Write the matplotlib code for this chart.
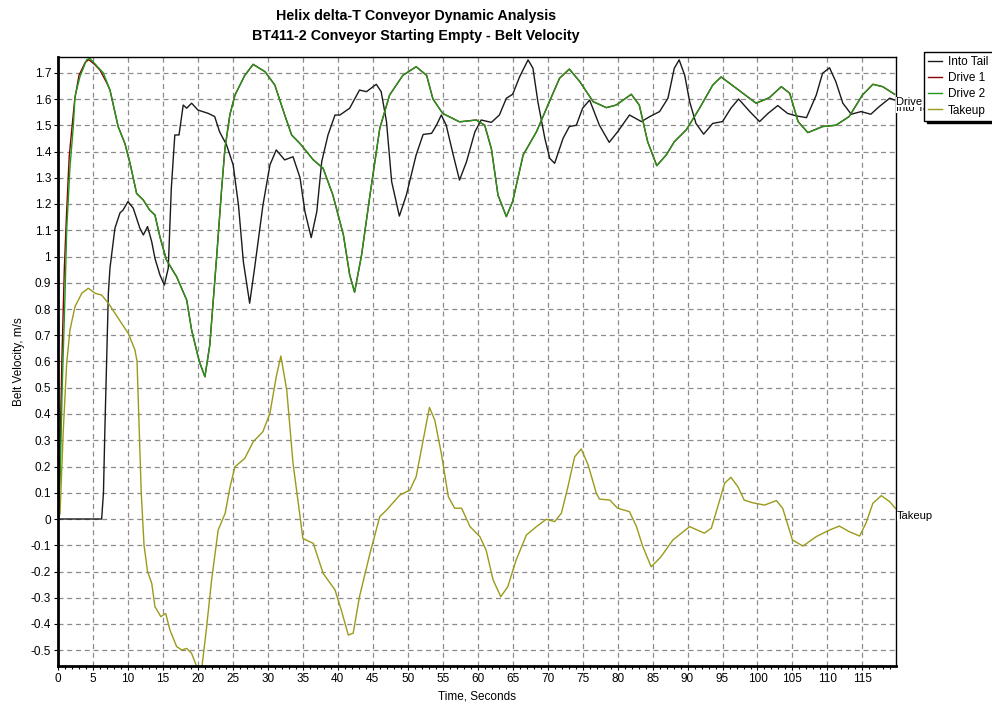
import matplotlib.pyplot as plt
import numpy as np
from matplotlib.ticker import MultipleLocator, FuncFormatter

plt.rcParams["font.family"] = ["Liberation Sans", "DejaVu Sans"]

# Into Tail belt velocity, m/s
tail_t = [0, 6.24, 6.5, 6.7, 6.96, 7.2, 7.43, 8.14, 8.86, 9.3, 10, 10.76, 11.7, 12.2,
          12.8, 13.4, 13.86, 14.57, 15.2, 15.76, 16.2, 16.7, 17.3, 17.9, 18.4, 19.1,
          20, 21.5, 22.4, 23.1, 24.1, 25.04, 25.8, 26.5, 27.4, 28.1, 29.3, 30.3, 31.2,
          32.4, 33.6, 34.6, 35.3, 36.2, 37, 37.7, 38.6, 39.6, 40.3, 41.7, 43.1, 44.1,
          45.5, 46.2, 46.96, 47.7, 48.8, 49.8, 51.2, 52.2, 53.4, 54.1, 54.8, 55.5,
          56.5, 57.4, 58.4, 59.6, 60.5, 61.96, 63.1, 64.1, 65, 66, 67.2, 67.9, 68.6,
          69.6, 70.3, 71, 72.2, 73.1, 74.1, 75, 76, 77.4, 78.8, 80, 81.7, 83.4, 84.6,
          86, 87.2, 88.1, 88.8, 89.6, 90.3, 91.2, 92.3, 93.6, 95, 96.2, 97.3, 98.9,
          100.3, 101.5, 102.9, 104.3, 105.5, 107, 108.4, 109.3, 110.3, 111.2, 112.2,
          113.4, 114.8, 116.2, 117.4, 118.9, 119.6]
tail_v = [0, 0, 0.10, 0.34, 0.61, 0.86, 0.956, 1.108, 1.166, 1.177, 1.209, 1.184, 1.108,
          1.082, 1.114, 1.056, 0.993, 0.93, 0.891, 0.955, 1.26, 1.463, 1.463, 1.577,
          1.565, 1.584, 1.558, 1.545, 1.533, 1.475, 1.425, 1.349, 1.196, 0.98, 0.822,
          0.955, 1.196, 1.349, 1.406, 1.368, 1.38, 1.30, 1.171, 1.072, 1.171, 1.361,
          1.463, 1.539, 1.539, 1.565, 1.634, 1.628, 1.656, 1.628, 1.514, 1.285, 1.154,
          1.234, 1.387, 1.465, 1.469, 1.50, 1.539, 1.50, 1.387, 1.291, 1.361, 1.475,
          1.52, 1.511, 1.539, 1.603, 1.618, 1.685, 1.749, 1.717, 1.59, 1.45, 1.374,
          1.355, 1.45, 1.495, 1.50, 1.565, 1.596, 1.50, 1.435, 1.475, 1.539, 1.514,
          1.533, 1.552, 1.603, 1.717, 1.749, 1.69, 1.59, 1.507, 1.466, 1.507, 1.514,
          1.565, 1.60, 1.552, 1.514, 1.545, 1.575, 1.545, 1.536, 1.529, 1.615, 1.698,
          1.719, 1.666, 1.584, 1.542, 1.552, 1.542, 1.571, 1.603, 1.596]

# Drive 2 belt velocity, m/s
drive2_t = [0, 0.3, 0.6, 1.0, 1.24, 1.71, 2.19, 2.43, 3.14, 4.1, 4.57, 5.76, 6.47, 7.43,
            8.6, 9.57, 10.3, 11.24, 12.2, 13.1, 13.86, 14.57, 15.5, 16.96, 18.4, 19.1,
            20.2, 21, 21.7, 22.7, 23.4, 23.86, 24.57, 25.3, 26.7, 27.9, 29.6, 31, 32.4,
            33.4, 34.6, 36.5, 37.9, 39.3, 40.8, 41.7, 42.4, 43.4, 44.6, 46, 47.4, 49.3,
            51.2, 52.7, 53.6, 55, 57.4, 59.8, 61, 61.96, 62.9, 64.1, 65, 66.5, 68.4,
            70.3, 71.7, 73.1, 74.6, 76.5, 78.4, 79.8, 81.96, 83.1, 84.3, 85.6, 86.96,
            88.1, 89.8, 91.7, 93.6, 94.8, 96.96, 99.8, 101.7, 103.4, 104.6, 105.8,
            107.2, 109.3, 111.2, 113.1, 115, 116.5, 117.9, 119.6]
drive2_v = [0, 0.15, 0.5, 0.85, 1.10, 1.34, 1.495, 1.61, 1.685, 1.75, 1.755, 1.72, 1.70,
            1.634, 1.495, 1.43, 1.355, 1.24, 1.215, 1.177, 1.158, 1.075, 0.987, 0.923,
            0.834, 0.72, 0.6, 0.542, 0.663, 1.006, 1.26, 1.41, 1.54, 1.615, 1.69, 1.732,
            1.704, 1.653, 1.54, 1.463, 1.43, 1.368, 1.336, 1.234, 1.082, 0.93, 0.864,
            1.006, 1.234, 1.488, 1.615, 1.69, 1.723, 1.69, 1.60, 1.545, 1.513, 1.52,
            1.50, 1.41, 1.234, 1.152, 1.21, 1.387, 1.475, 1.593, 1.679, 1.714, 1.666,
            1.59, 1.567, 1.577, 1.618, 1.577, 1.437, 1.346, 1.387, 1.437, 1.482, 1.564,
            1.653, 1.684, 1.641, 1.584, 1.605, 1.647, 1.622, 1.514, 1.472, 1.495, 1.50,
            1.533, 1.615, 1.656, 1.647, 1.618]

# Drive 1 belt velocity, m/s (leads Drive 2 slightly during the start)
drive1_t = [0, 0.25, 0.55, 0.9, 1.2, 1.6, 2.1, 2.4, 3.0, 3.9, 4.4, 5.3, 6.0, 7.0] + drive2_t[13:]
drive1_v = [0, 0.2, 0.6, 0.95, 1.15, 1.38, 1.52, 1.60, 1.69, 1.74, 1.75, 1.73, 1.71,
            1.66] + drive2_v[13:]

# Takeup belt velocity, m/s
takeup_t = [0, 0.29, 0.76, 1.24, 1.71, 2.43, 3.4, 4.33, 5.3, 6.24, 7.2, 8.14, 9.1, 10.05,
            11, 11.3, 11.6, 11.9, 12.3, 12.8, 13.4, 13.86, 14.7, 15.4, 16, 16.96, 17.7,
            18.4, 19.1, 19.8, 20.5, 21.2, 21.96, 22.9, 23.9, 24.6, 25.3, 26.7, 27.9,
            29.3, 30.3, 31.2, 31.86, 32.7, 33.6, 34.6, 35, 36.5, 37.9, 39.6, 40.5, 41.5,
            42.2, 43.1, 44.6, 46, 46.96, 48.86, 50.3, 51.2, 52.2, 53.1, 53.86, 54.8,
            55.8, 56.7, 57.7, 58.9, 60.3, 61.2, 62.2, 63.3, 64.3, 65.5, 66.96, 68.4,
            69.8, 71, 71.96, 72.9, 73.86, 74.8, 75.8, 76.96, 77.4, 78.9, 80, 81.7, 82.7,
            83.6, 84.8, 86.2, 87.9, 90.3, 92.4, 93.4, 94.6, 95.3, 96.2, 97.2, 98.1,
            99.3, 101, 102.7, 103.6, 105, 106.5, 108.4, 110.3, 111.7, 113.1, 114.6,
            115.5, 116.5, 117.7, 118.9, 119.7]
takeup_v = [0, 0.02, 0.34, 0.593, 0.72, 0.809, 0.86, 0.879, 0.86, 0.853, 0.822, 0.784,
            0.745, 0.707, 0.644, 0.6, 0.35, 0.1, -0.1, -0.2, -0.245, -0.334, -0.372,
            -0.36, -0.423, -0.486, -0.499, -0.493, -0.512, -0.56, -0.58, -0.423, -0.232,
            -0.042, 0.022, 0.123, 0.199, 0.231, 0.294, 0.333, 0.403, 0.542, 0.621,
            0.491, 0.212, 0.01, -0.074, -0.093, -0.207, -0.27, -0.347, -0.442, -0.435,
            -0.296, -0.131, 0.009, 0.034, 0.091, 0.11, 0.161, 0.30, 0.425, 0.377, 0.25,
            0.085, 0.041, 0.041, -0.029, -0.067, -0.118, -0.232, -0.296, -0.258, -0.156,
            -0.061, -0.029, -0.001, -0.01, 0.022, 0.123, 0.237, 0.267, 0.205, 0.098,
            0.076, 0.072, 0.041, 0.028, -0.029, -0.105, -0.182, -0.144, -0.08, -0.029,
            -0.054, -0.035, 0.072, 0.136, 0.159, 0.123, 0.072, 0.062, 0.053, 0.07,
            0.041, -0.08, -0.103, -0.067, -0.042, -0.027, -0.048, -0.065, -0.016, 0.06,
            0.089, 0.066, 0.041]

series = [
    ("Into Tail", tail_t, tail_v, "#1a1a1a"),
    ("Drive 1", drive1_t, drive1_v, "#8b0000"),
    ("Drive 2", drive2_t, drive2_v, "#1f9a1f"),
    ("Takeup", takeup_t, takeup_v, "#9a9a1a"),
]

fig = plt.figure(figsize=(9.92, 7.05), dpi=100)
ax = fig.add_axes([58 / 992, 1 - 666 / 705, (896 - 58) / 992, (666 - 57) / 705])

for name, t, v, color in series:
    ax.plot(t, v, color=color, linewidth=1.0, label=name)

ax.set_xlim(0, 119.8)
ax.set_ylim(-0.56, 1.76)

ax.xaxis.set_major_locator(MultipleLocator(5))
ax.xaxis.set_minor_locator(MultipleLocator(1))
ax.yaxis.set_major_locator(MultipleLocator(0.1))
ax.yaxis.set_major_formatter(FuncFormatter(lambda val, pos: f"{round(val, 1):g}"))

ax.grid(True, which="major", color="#8c8c8c", linestyle=(0, (4, 3)), linewidth=0.9)
ax.tick_params(axis="both", which="major", direction="out", length=3, labelsize=8.5,
               width=0.8, pad=2)
ax.tick_params(axis="x", which="minor", direction="out", length=2, width=0.8)

ax.spines["left"].set_linewidth(2)
ax.spines["bottom"].set_linewidth(2)
ax.spines["top"].set_linewidth(1)
ax.spines["right"].set_linewidth(1)

ax.set_xlabel("Time, Seconds", fontsize=8.5, labelpad=4)
ax.set_ylabel("Belt Velocity, m/s", fontsize=8.5, labelpad=4)

fig.text(416 / 992, 1 - 16 / 705, "Helix delta-T Conveyor Dynamic Analysis",
         ha="center", va="center", fontsize=10.3, fontweight="bold")
fig.text(416 / 992, 1 - 36 / 705, "BT411-2 Conveyor Starting Empty - Belt Velocity",
         ha="center", va="center", fontsize=10.3, fontweight="bold")

# series names at the right end of each line
for name, t, v, color in series:
    ax.annotate(name, (t[-1], v[-1]), xytext=(1, -2), textcoords="offset points",
                ha="left", va="top", fontsize=8, annotation_clip=False,
                bbox=dict(facecolor="white", edgecolor="none", pad=0))

fig.legend(loc="upper left", bbox_to_anchor=(924 / 992, 1 - 52 / 705), fontsize=8.5,
           frameon=True, fancybox=False, edgecolor="black", framealpha=1,
           handlelength=1.2, handletextpad=0.5, labelspacing=0.35, borderpad=0.35,
           borderaxespad=0, shadow={"color": "black", "alpha": 1})

fig.savefig("out.png", dpi=100)
